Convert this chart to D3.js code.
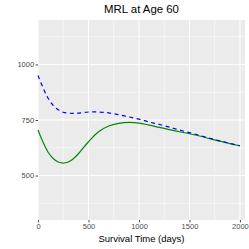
<!DOCTYPE html>
<html>
<head>
<meta charset="utf-8">
<script src="https://cdn.jsdelivr.net/npm/d3@7"></script>
<style>
  body { margin: 0; background: #fff; }
  svg { display: block; font-family: "Liberation Sans", Arial, sans-serif; }
</style>
</head>
<body>
<svg width="249" height="249"></svg>
<script>
// survival times (days) and mean residual life estimates
let times = [0, 50, 100, 150, 200, 250, 300, 350, 400, 500, 600, 700, 800,
    900, 1000, 1100, 1200, 1300, 1400, 1500, 1600, 1700, 1800, 1900, 2000];
let mrlDashed = [950, 895, 848, 816, 796, 785, 781, 780, 781, 786, 786, 782, 774,
    764, 754, 741, 730, 718, 705, 693, 681, 668, 656, 645, 634];
let mrlSolid = [705, 650, 605, 577, 561, 556, 561, 576, 598, 652, 697, 723, 735,
    739, 736, 727, 717, 707, 697, 688, 678, 666, 655, 644, 634];
let xTicks = [0, 500, 1000, 1500, 2000];
let xMinor = [250, 750, 1250, 1750];
let yTicks = [500, 750, 1000];
let yMinor = [375, 625, 875, 1125];

let svg = d3.select("svg"),
    margin = {top: 20, bottom: 29, left: 38, right: 4},
    width = svg.attr("width") - margin.left - margin.right,
    height = svg.attr("height") - margin.top - margin.bottom;

let g = svg.append("g")
    .attr("transform", "translate(" + margin.left + "," + margin.top + ")");

let xScale = d3.scaleLinear()
    .domain([0, 2050])
    .range([0, width]);
let yScale = d3.scaleLinear()
    .domain([300, 1200])
    .range([height, 0]);

// panel
g.append("rect")
    .attr("width", width)
    .attr("height", height)
    .attr("fill", "#EBEBEB");

// grid lines
g.selectAll(".xminor").data(xMinor).join("line")
    .attr("x1", d => xScale(d)).attr("x2", d => xScale(d))
    .attr("y1", 0).attr("y2", height)
    .attr("stroke", "#fff").attr("stroke-width", 0.5);
g.selectAll(".yminor").data(yMinor).join("line")
    .attr("y1", d => yScale(d)).attr("y2", d => yScale(d))
    .attr("x1", 0).attr("x2", width)
    .attr("stroke", "#fff").attr("stroke-width", 0.5);
g.selectAll(".xmajor").data(xTicks).join("line")
    .attr("x1", d => xScale(d)).attr("x2", d => xScale(d))
    .attr("y1", 0).attr("y2", height)
    .attr("stroke", "#fff").attr("stroke-width", 1);
g.selectAll(".ymajor").data(yTicks).join("line")
    .attr("y1", d => yScale(d)).attr("y2", d => yScale(d))
    .attr("x1", 0).attr("x2", width)
    .attr("stroke", "#fff").attr("stroke-width", 1);

// axes
let xAxis = g.append("g")
    .attr("transform", "translate(0," + height + ")")
    .call(d3.axisBottom(xScale).tickValues(xTicks).tickFormat(d3.format("d"))
        .tickSize(2.4).tickPadding(1.5));
let yAxis = g.append("g")
    .call(d3.axisLeft(yScale).tickValues(yTicks).tickFormat(d3.format("d"))
        .tickSize(2.4).tickPadding(1.5));
[xAxis, yAxis].forEach(a => {
    a.select(".domain").remove();
    a.selectAll("line").attr("stroke", "#333333").attr("stroke-width", 0.9);
    a.selectAll("text")
        .attr("fill", "#4D4D4D")
        .attr("font-size", "7.5px")
        .attr("font-family", "Liberation Sans, Arial, sans-serif");
});

// lines
let line = (vals) => d3.line()
    .curve(d3.curveCatmullRom)
    .x((d, i) => xScale(times[i]))
    .y(d => yScale(d))(vals);

g.append("path")
    .attr("d", line(mrlSolid))
    .attr("fill", "none")
    .attr("stroke", "#008B00")
    .attr("stroke-width", 1.2);

g.append("path")
    .attr("d", line(mrlDashed))
    .attr("fill", "none")
    .attr("stroke", "#0000FF")
    .attr("stroke-width", 1.2)
    .attr("stroke-dasharray", "4,3.5");

// title
svg.append("text")
    .attr("x", margin.left + width / 2)
    .attr("y", 13)
    .attr("text-anchor", "middle")
    .attr("font-size", "11.4px")
    .attr("fill", "#000")
    .text("MRL at Age 60");

// x-axis label
svg.append("text")
    .attr("x", margin.left + width / 2)
    .attr("y", 242)
    .attr("text-anchor", "middle")
    .attr("font-size", "9.5px")
    .attr("fill", "#000")
    .text("Survival Time (days)");
</script>
</body>
</html>
